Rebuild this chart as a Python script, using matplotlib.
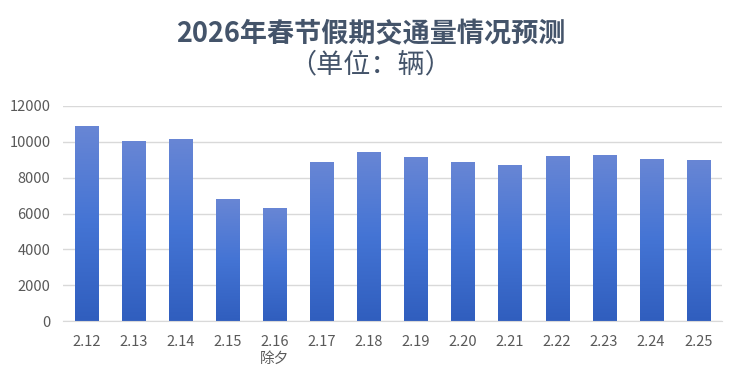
import numpy as np
import matplotlib.pyplot as plt
from matplotlib.colors import LinearSegmentedColormap

plt.rcParams['font.family'] = ['Noto Sans CJK SC', 'DejaVu Sans']

dates = ['2.12', '2.13', '2.14', '2.15', '2.16', '2.17', '2.18',
         '2.19', '2.20', '2.21', '2.22', '2.23', '2.24', '2.25']
notes = {'2.16': '除夕'}
traffic = [10880, 10000, 10150, 6800, 6300, 8820, 9430,
           9100, 8820, 8650, 9200, 9260, 9040, 8980]
yticks = [0, 2000, 4000, 6000, 8000, 10000, 12000]

fig = plt.figure(figsize=(7.41, 3.84), dpi=100)
ax = fig.add_axes([0.085, 0.164, 0.889, 0.56])

x = np.arange(len(dates))
bars = ax.bar(x, traffic, width=0.49, color='none', zorder=2)

# vertical gradient inside each bar
grad_cmap = LinearSegmentedColormap.from_list(
    'bar_grad', ['#305EBE', '#4474D4', '#6886D5'])
grad = np.linspace(0, 1, 256).reshape(-1, 1)
for b in bars:
    x0, y0 = b.get_x(), b.get_y()
    ax.imshow(grad, cmap=grad_cmap, origin='lower', aspect='auto',
              extent=[x0, x0 + b.get_width(), y0, y0 + b.get_height()],
              zorder=2)

ax.set_xlim(-0.5, len(dates) - 0.5)
ax.set_ylim(0, 12000)
ax.set_yticks(yticks)
ax.set_yticklabels([str(v) for v in yticks])
ax.set_xticks(x)
ax.set_xticklabels([d + ('\n' + notes[d] if d in notes else '') for d in dates],
                   linespacing=1.25)
ax.grid(axis='y', color='#D9D9D9', linewidth=1, zorder=0)
ax.set_axisbelow(True)
for s in ['top', 'right', 'left']:
    ax.spines[s].set_visible(False)
ax.spines['bottom'].set_color('#D9D9D9')
ax.tick_params(axis='both', length=0, labelsize=10.5, labelcolor='#595959')
ax.tick_params(axis='x', pad=10)
ax.tick_params(axis='y', pad=9)

fig.text(0.5, 0.912, '2026年春节假期交通量情况预测', ha='center', va='center',
         fontsize=19.5, fontweight='bold', color='#44546A')
fig.text(0.5, 0.83, '（单位：辆）', ha='center', va='center',
         fontsize=19.5, color='#44546A')

fig.savefig('out.png', dpi=100)
